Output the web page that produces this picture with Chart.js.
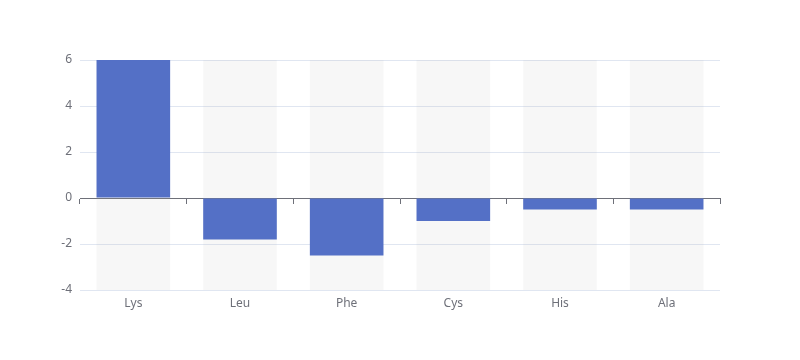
<!DOCTYPE html>
<html>
<head>
<meta charset="utf-8">
<script src="https://cdn.jsdelivr.net/npm/chart.js@4/dist/chart.umd.min.js"></script>
<style>
  html, body { margin: 0; padding: 0; background: #fff; }
  #wrap { width: 800px; height: 360px; }
</style>
</head>
<body>
<div id="wrap"><canvas id="chart"></canvas></div>
<script>
// values
const categories = ['Lys', 'Leu', 'Phe', 'Cys', 'His', 'Ala'];
const values = [6, -1.8, -2.5, -1, -0.5, -0.5];
const yTicks = [-4, -2, 0, 2, 4, 6];

const yMin = yTicks[0];
const yMax = yTicks[yTicks.length - 1];

// grey background column behind every bar (echarts showBackground look)
const backgroundCols = categories.map(() => [yMin, yMax]);

const textColor = '#6e7079';
const fontFamily = '"Noto Sans", "DejaVu Sans", sans-serif';

new Chart(document.getElementById('chart'), {
    type: 'bar',
    data: {
        labels: categories,
        datasets: [
            {
                data: backgroundCols,
                backgroundColor: 'rgba(180,180,180,0.1)',
                borderWidth: 0,
                categoryPercentage: 1,
                barPercentage: 0.69,
                grouped: false,
                order: 2,
            },
            {
                data: values,
                backgroundColor: '#5470c6',
                borderWidth: 0,
                categoryPercentage: 1,
                barPercentage: 0.69,
                grouped: false,
                order: 1,
            }
        ]
    },
    options: {
        responsive: true,
        maintainAspectRatio: false,
        animation: false,
        layout: { padding: { top: 60, right: 80, bottom: 0, left: 0 } },
        scales: {
            x: {
                offset: true,
                grid: { display: false },
                border: { display: false },
                ticks: { color: textColor, padding: -2, font: { size: 12, family: fontFamily } },
                afterFit: s => { s.height = 70; },
            },
            // axis line that sits on zero, with its small ticks
            x0: {
                type: 'category',
                position: { y: 0 },
                offset: true,
                grid: {
                    display: true,
                    drawOnChartArea: false,
                    drawTicks: true,
                    tickLength: 5,
                    color: '#6e7079',
                },
                border: { display: true, color: '#6e7079', width: 1 },
                ticks: { display: false },
            },
            y: {
                min: yMin,
                max: yMax,
                ticks: {
                    stepSize: 2,
                    color: textColor,
                    padding: 8,
                    font: { size: 12, family: fontFamily },
                },
                grid: { color: '#e0e6f1', drawTicks: false },
                border: { display: false },
                afterFit: s => { s.width = 80; },
            }
        },
        plugins: {
            legend: { display: false },
            tooltip: { enabled: false },
        }
    }
});
</script>
</body>
</html>
